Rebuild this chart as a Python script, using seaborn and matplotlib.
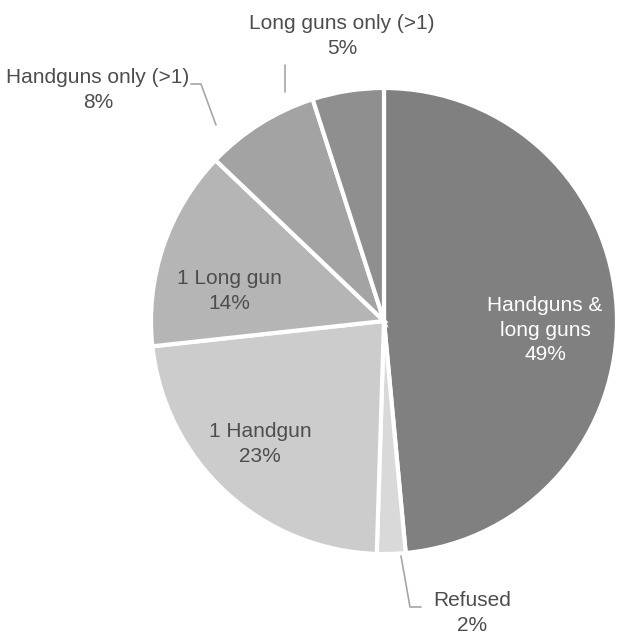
import matplotlib
matplotlib.use("Agg")
import matplotlib.pyplot as plt
import seaborn as sns

sns.set_theme(style="white")
plt.rcParams['font.family'] = ['Liberation Sans', 'DejaVu Sans']

categories = ["Handguns &\nlong guns", "Refused", "1 Handgun", "1 Long gun",
              "Handguns only (>1)", "Long guns only (>1)"]
values = [49, 2, 23, 14, 8, 5]
colors = ["#808080", "#d9d9d9", "#cccccc", "#b5b5b5", "#a3a3a3", "#8f8f8f"]

W, H = 617, 638
fig = plt.figure(figsize=(W / 100, H / 100), dpi=100)
cx, cy, r = 384, 321, 233
ax = fig.add_axes([(cx - r) / W, (H - cy - r) / H, 2 * r / W, 2 * r / H])
ax.pie(values, colors=colors, startangle=90, counterclock=False,
       wedgeprops=dict(edgecolor="white", linewidth=3))
ax.set_xlim(-1, 1)
ax.set_ylim(-1, 1)
ax.set_aspect("equal")
ax.axis("off")

def d(px, py):
    return ((px - cx) / r, (cy - py) / r)

txt = "#4d4d4d"
fs = 15
labels = [
    (f"{categories[0]}\n{values[0]}%", (545, 330), "white"),
    (f"{categories[1]}\n{values[1]}%", (472, 613), txt),
    (f"{categories[2]}\n{values[2]}%", (260, 444), txt),
    (f"{categories[3]}\n{values[3]}%", (229, 291), txt),
    (f"{categories[4]}\n{values[4]}%", (98, 90), txt),
    (f"{categories[5]}\n{values[5]}%", (342, 36), txt),
]
for s, (px, py), c in labels:
    x, y = d(px, py)
    ax.text(x, y, s, ha="center", va="center", color=c, fontsize=fs,
            linespacing=1.35, clip_on=False)

lc = "#a6a6a6"
lines = [
    [(401, 556), (410, 607), (421, 607)],
    [(285, 65), (285, 92)],
    [(191, 84), (201, 84), (216, 125)],
]
for pts in lines:
    xs, ys = zip(*[d(px, py) for px, py in pts])
    ax.plot(xs, ys, color=lc, lw=1.2, clip_on=False)

fig.savefig("out.png", dpi=100, facecolor="white")
